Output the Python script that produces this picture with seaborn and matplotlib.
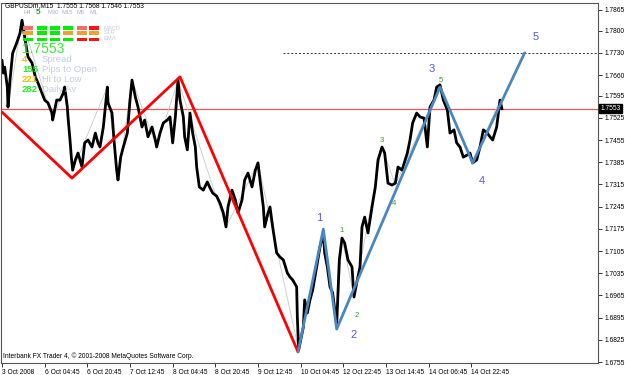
import matplotlib
matplotlib.use("Agg")
import matplotlib.pyplot as plt
from matplotlib.patches import Rectangle
import matplotlib.transforms as mtransforms
import pandas as pd
import seaborn as sns

# ---------------- data ----------------
bar_index = [0, 2, 4, 8, 9, 12, 16, 22, 27, 30, 34, 39, 45, 50, 54, 60, 64, 69, 75, 76,
             82, 87, 92, 94, 98, 99, 102, 104, 106, 110, 114, 120, 124, 129, 135, 140, 144,
             147, 152, 158, 159, 165, 168, 172, 174, 178, 182, 188, 192, 195, 200, 204, 210,
             214, 219, 225, 230, 232, 237, 242, 248, 252, 256, 260, 264, 267, 272, 274, 278,
             282, 286, 290, 292, 296,
             302, 308, 312, 316, 322, 327, 332, 336, 339, 345, 350, 354, 360, 364, 369, 375,
             380, 384, 387, 392, 394, 399, 402, 406, 412, 417, 422, 428, 432, 436, 442, 443,
             445,
             452, 454, 458, 462, 466, 472, 477, 482, 484, 488, 492, 496, 502, 506, 510, 514,
             519, 525, 528, 532, 537, 540, 544, 549, 555, 560, 564, 570, 574, 579, 585, 590,
             594,
             600, 608, 612, 616, 622, 627, 633, 638, 642, 648, 652, 657, 662, 668, 672, 678,
             682, 687, 692, 698, 702, 706, 712, 717, 722, 728, 732, 736, 742, 747, 750]
close_price = [1.7707, 1.7666, 1.7685, 1.7622, 1.7559, 1.7644, 1.7729, 1.7761, 1.7792, 1.7833,
               1.7780, 1.7717, 1.7698, 1.7654, 1.7635, 1.7603, 1.7581, 1.7572, 1.7540, 1.7518,
               1.7581, 1.7581, 1.7603, 1.7622, 1.7559, 1.7528, 1.7455, 1.7401, 1.7360, 1.7392,
               1.7414, 1.7370, 1.7446, 1.7455, 1.7433, 1.7477, 1.7446,
               1.7433, 1.7496, 1.7622, 1.7572, 1.7540, 1.7455, 1.7360, 1.7329, 1.7401, 1.7433,
               1.7477, 1.7581, 1.7644, 1.7591, 1.7559, 1.7496, 1.7518, 1.7465, 1.7496, 1.7455,
               1.7433, 1.7477, 1.7509, 1.7518, 1.7528, 1.7446, 1.7528, 1.7644, 1.7581, 1.7528,
               1.7465, 1.7424, 1.7540, 1.7477, 1.7433, 1.7370, 1.7307,
               1.7297, 1.7323, 1.7304, 1.7288, 1.7278, 1.7256, 1.7225, 1.7181, 1.7244, 1.7297,
               1.7266, 1.7225, 1.7266, 1.7329, 1.7351, 1.7307, 1.7360, 1.7383, 1.7329, 1.7244,
               1.7181, 1.7225, 1.7244, 1.7181, 1.7099, 1.7086, 1.7077, 1.7036, 1.7023, 1.7014,
               1.6992, 1.6897, 1.6793,
               1.6865, 1.6951, 1.6910, 1.6951, 1.6982, 1.7055, 1.7118, 1.7162, 1.7099, 1.7055,
               1.6992, 1.6973, 1.6872, 1.7077, 1.7146, 1.7130, 1.7077, 1.7055, 1.6960, 1.7004,
               1.7055, 1.7181, 1.7212, 1.7162, 1.7244, 1.7307, 1.7392, 1.7433, 1.7414, 1.7319,
               1.7313, 1.7319, 1.7370,
               1.7360, 1.7414, 1.7455, 1.7509, 1.7540, 1.7528, 1.7524, 1.7433, 1.7559, 1.7581,
               1.7622, 1.7629, 1.7581, 1.7550, 1.7477, 1.7487, 1.7446, 1.7433, 1.7401, 1.7408,
               1.7414, 1.7383, 1.7392, 1.7433, 1.7487, 1.7477, 1.7465, 1.7455, 1.7496, 1.7581,
               1.7553]

swing_bar = [9, 30, 76, 94, 106, 158, 174, 195, 232, 264, 336, 384, 445, 482, 502, 510, 528,
             570, 590, 657, 706, 747]
swing_price = [1.7559, 1.7833, 1.7518, 1.7622, 1.7360, 1.7622, 1.7329, 1.7644, 1.7433, 1.7644,
               1.7181, 1.7383, 1.6793, 1.7162, 1.6872, 1.7146, 1.6960, 1.7433, 1.7313, 1.7629,
               1.7383, 1.7581]

red_wave_bar = [0, 105, 267, 444]
red_wave_price = [1.7543, 1.7335, 1.7654, 1.6787]
blue_wave_bar = [444, 482, 502, 657, 706, 784]
blue_wave_price = [1.6787, 1.7174, 1.6859, 1.7622, 1.7383, 1.7730]

major_labels = ["1", "2", "3", "4", "5"]
major_bar = [476, 527, 644, 720, 800]
major_price = [1.7209, 1.6840, 1.7679, 1.7326, 1.7780]
minor_labels = ["1", "2", "3", "4", "5"]
minor_bar = [510, 532, 570, 588, 658]
minor_price = [1.7171, 1.6903, 1.7455, 1.7256, 1.7644]

bid_price = 1.7553
target_level = 1.7730
target_start_bar = 421

y_ticks = [1.7865, 1.7800, 1.7730, 1.7660, 1.7595, 1.7525, 1.7455, 1.7385, 1.7315, 1.7245,
           1.7175, 1.7105, 1.7035, 1.6965, 1.6895, 1.6825, 1.6755]
x_tick_bars = [0, 64, 128, 192, 256, 320, 384, 448, 512, 576, 640, 704]
x_tick_labels = ["3 Oct 2008", "6 Oct 04:45", "6 Oct 20:45", "7 Oct 12:45", "8 Oct 04:45",
                 "8 Oct 20:45", "9 Oct 12:45", "10 Oct 04:45", "12 Oct 22:45", "13 Oct 14:45",
                 "14 Oct 06:45", "14 Oct 22:45"]

tf_labels = ["H4", "5", "M30", "M15", "M5", "M1"]
ind_labels = ["MACD", "STR", "EMA"]
ind_colors = [["#f07070", "#00ee00", "#00ee00", "#00ee00", "#f07070", "#ff1414"],
              ["#f0a030", "#00ee00", "#00ee00", "#f0a030", "#f0a030", "#f0a030"],
              ["#00ee00", "#00ee00", "#00ee00", "#00ee00", "#ff1414", "#ff1414"]]
info_values = ["4", "155", "221", "282"]
info_names = ["Spread", "Pips to Open", "Hi to Low", "Daily Av"]
info_colors = ["#f0c000", "#22ee22", "#f0c000", "#22ee22"]

# ---------------- drawing ----------------
sns.set_theme(style="white")
plt.rcParams["font.family"] = ["Liberation Sans", "DejaVu Sans"]

W, H = 625, 375
fig = plt.figure(figsize=(W / 100, H / 100), dpi=100)
fig.patch.set_facecolor("white")
ax = fig.add_axes([1 / W, 1 - 363 / H, 597 / W, 360 / H])
ax.set_facecolor("white")

df = pd.DataFrame({"bar": bar_index, "close": close_price})
df_sw = pd.DataFrame({"bar": swing_bar, "price": swing_price})

sns.lineplot(data=df_sw, x="bar", y="price", ax=ax, color="#c8c8c8", lw=0.6,
             sort=False, estimator=None)
sns.lineplot(data=df, x="bar", y="close", ax=ax, color="black", lw=2.0,
             sort=False, estimator=None)

ax.axhline(bid_price, color="#e05a5a", lw=0.9, zorder=1)
ax.hlines(target_level, target_start_bar, 900, colors="#333333", lw=0.7,
          linestyles=(0, (2, 2)))

ax.plot(red_wave_bar, red_wave_price, color="#ff0000", lw=2.0, solid_capstyle="round")
ax.plot(blue_wave_bar, blue_wave_price, color="#4a86bf", lw=2.0, solid_capstyle="round")

for t, b, p in zip(major_labels, major_bar, major_price):
    ax.text(b, p, t, color="#5a5ad8", fontsize=8, ha="center", va="center")
for t, b, p in zip(minor_labels, minor_bar, minor_price):
    ax.text(b, p, t, color="#2e9e2e", fontsize=5.5, ha="center", va="center")

ax.set_xlim(-1.5, 894)
ax.set_ylim(1.6752, 1.7887)

ax.yaxis.tick_right()
ax.set_yticks(y_ticks)
ax.set_yticklabels([f"{v:.4f}" for v in y_ticks])
ax.tick_params(axis="y", direction="out", length=3, width=0.7, labelsize=4.8, pad=2,
               colors="#333333", labelcolor="black", right=True, left=False)
ax.set_xticks(x_tick_bars)
ax.set_xticklabels(x_tick_labels)
ax.tick_params(axis="x", direction="out", length=3, width=0.7, labelsize=4.8, pad=1,
               colors="#333333", labelcolor="black", bottom=True)
for lbl in ax.get_xticklabels():
    lbl.set_ha("left")
ax.set_xlabel("")
ax.set_ylabel("")
for s in ax.spines.values():
    s.set_color("#555555")
    s.set_linewidth(0.8)

# bid price label on the axis
trans = mtransforms.blended_transform_factory(ax.transAxes, ax.transData)
ax.text(1.004, bid_price, f"{bid_price:.4f}", transform=trans, fontsize=4.8,
        color="white", va="center", ha="left", clip_on=False,
        bbox=dict(boxstyle="square,pad=0.15", fc="black", ec="black"))

# ---------------- overlay widgets (pixel positioned) ----------------
def fx(px):
    return px / W

def fy(py):
    return 1 - py / H

fig.text(fx(5), fy(6), "GBPUSDm,M15  1.7555 1.7568 1.7546 1.7553", fontsize=4.8,
         va="center", ha="left", color="black")

tf_x = [27, 38, 53, 67, 81, 94]
for t, x in zip(tf_labels, tf_x):
    if t == "5":
        fig.text(fx(x), fy(13), t, fontsize=6, color="#22aa22", fontweight="bold",
                 ha="center", va="center")
    else:
        fig.text(fx(x), fy(13), t, fontsize=4.2, color="#a6b0d8", ha="center", va="center")

col_x0 = [23, 37, 50, 63, 77, 89]
row_y = [28, 33, 39]
for r, yy in enumerate(row_y):
    for c, x0 in enumerate(col_x0):
        fig.patches.append(Rectangle((fx(x0), fy(yy + 1.5)), 10 / W, 3 / H,
                                     transform=fig.transFigure, fc=ind_colors[r][c],
                                     ec="none"))
    fig.text(fx(104), fy(yy), ind_labels[r], fontsize=4.2, color="#c8c8e8",
             ha="left", va="center")

fig.text(fx(22), fy(49), "1.7553", fontsize=10, color="#33ee33", ha="left", va="center")
for i, (v, n, c) in enumerate(zip(info_values, info_names, info_colors)):
    yy = 60 + 10 * i
    fig.text(fx(22), fy(yy), v, fontsize=6.8, color=c, ha="left", va="center",
             fontweight="bold")
    fig.text(fx(42), fy(yy), n, fontsize=6.8, color="#c4cce4", ha="left", va="center")

fig.text(fx(3), fy(356), "Interbank FX Trader 4, \u00a9 2001-2008 MetaQuotes Software Corp.",
         fontsize=4.8, color="black", ha="left", va="center")

fig.savefig("out.png", dpi=100, facecolor="white")
